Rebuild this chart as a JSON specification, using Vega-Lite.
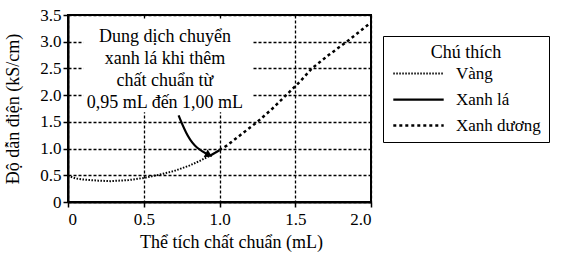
{
  "$schema": "https://vega.github.io/schema/vega-lite/v6.json",
  "autosize": "none",
  "width": 303,
  "height": 187,
  "padding": {"left": 68, "top": 15, "right": 217, "bottom": 59},
  "background": "white",
  "config": {
    "font": "Times New Roman, Liberation Serif, serif",
    "view": {"stroke": "black", "strokeWidth": 2},
    "axis": {
      "domainColor": "black", "domainWidth": 2,
      "tickColor": "black", "tickWidth": 1.5, "tickSize": 5,
      "gridColor": "black", "gridDash": [3, 2], "gridWidth": 1.3, "gridOpacity": 1,
      "labelColor": "black", "labelFont": "Times New Roman, Liberation Serif, serif", "labelFontSize": 17, "labelOverlap": false,
      "titleColor": "black", "titleFont": "Times New Roman, Liberation Serif, serif", "titleFontSize": 18, "titleFontWeight": "normal"
    },
    "legend": {
      "labelFont": "Times New Roman, Liberation Serif, serif", "titleFont": "Times New Roman, Liberation Serif, serif"
    }
  },
  "datasets": {
    "curve": [
      {"s": "Vàng", "x": 0, "y": 0.49},
      {"s": "Vàng", "x": 0.05, "y": 0.44},
      {"s": "Vàng", "x": 0.1, "y": 0.42},
      {"s": "Vàng", "x": 0.2, "y": 0.40},
      {"s": "Vàng", "x": 0.28, "y": 0.39},
      {"s": "Vàng", "x": 0.4, "y": 0.41},
      {"s": "Vàng", "x": 0.5, "y": 0.45},
      {"s": "Vàng", "x": 0.6, "y": 0.51},
      {"s": "Vàng", "x": 0.7, "y": 0.58},
      {"s": "Vàng", "x": 0.8, "y": 0.68},
      {"s": "Vàng", "x": 0.87, "y": 0.77},
      {"s": "Vàng", "x": 0.94, "y": 0.87},
      {"s": "Xanh lá", "x": 0.94, "y": 0.87},
      {"s": "Xanh lá", "x": 0.97, "y": 0.92},
      {"s": "Xanh lá", "x": 1.0, "y": 0.97},
      {"s": "Xanh dương", "x": 1.0, "y": 0.97},
      {"s": "Xanh dương", "x": 1.05, "y": 1.06},
      {"s": "Xanh dương", "x": 1.15, "y": 1.28},
      {"s": "Xanh dương", "x": 1.25, "y": 1.5},
      {"s": "Xanh dương", "x": 1.35, "y": 1.75},
      {"s": "Xanh dương", "x": 1.44, "y": 2.0},
      {"s": "Xanh dương", "x": 1.53, "y": 2.25},
      {"s": "Xanh dương", "x": 1.61, "y": 2.5},
      {"s": "Xanh dương", "x": 1.72, "y": 2.75},
      {"s": "Xanh dương", "x": 1.84, "y": 3.0},
      {"s": "Xanh dương", "x": 1.92, "y": 3.18},
      {"s": "Xanh dương", "x": 2.0, "y": 3.36}
    ],
    "box": [{"x": 0.1, "x2": 1.22, "y": 1.68, "y2": 3.42}],
    "note": [
      {"t": "Dung dịch chuyển", "x": 0.64, "y": 3.09},
      {"t": "xanh lá khi thêm", "x": 0.64, "y": 2.67},
      {"t": "chất chuẩn từ", "x": 0.64, "y": 2.26},
      {"t": "0,95 mL đến 1,00 mL", "x": 0.64, "y": 1.86}
    ],
    "arrow": [
      {"x": 0.73, "y": 1.62},
      {"x": 0.79, "y": 1.21},
      {"x": 0.85, "y": 1.0},
      {"x": 0.93, "y": 0.88}
    ],
    "head": [{"x": 0.93, "y": 0.88}]
  },
  "encoding": {
    "x": {"field": "x", "type": "quantitative", "scale": {"domain": [0, 2]},
      "axis": {"values": [0, 0.5, 1, 1.5, 2], "labelExpr": "datum.value == 0 ? '0' : format(datum.value, '.1f')", "title": "Thể tích chất chuẩn (mL)", "titleX": 163, "titlePadding": 6, "labelPadding": 4}},
    "y": {"field": "y", "type": "quantitative", "scale": {"domain": [0, 3.5]},
      "axis": {"values": [0, 0.5, 1, 1.5, 2, 2.5, 3, 3.5], "labelExpr": "datum.value == 0 ? '0' : format(datum.value, '.1f')", "title": "Độ dẫn điện (kS/cm)", "titleX": -46, "labelPadding": 2}}
  },
  "layer": [
    {
      "data": {"name": "box"},
      "mark": {"type": "rect", "fill": "white"},
      "encoding": {
        "x2": {"field": "x2"},
        "y2": {"field": "y2"}
      }
    },
    {
      "data": {"name": "note"},
      "mark": {"type": "text", "fontSize": 18, "color": "black", "align": "center", "baseline": "middle"},
      "encoding": {
        "text": {"field": "t"}
      }
    },
    {
      "data": {"name": "arrow"},
      "mark": {"type": "line", "color": "black", "strokeWidth": 2.2, "interpolate": "basis"},
      "encoding": {}
    },
    {
      "data": {"name": "head"},
      "mark": {"type": "point", "shape": "triangle-right", "filled": true, "color": "black", "size": 70, "angle": 28, "opacity": 1},
      "encoding": {}
    },
    {
      "data": {"name": "curve"},
      "mark": {"type": "line"},
      "encoding": {
        "color": {"field": "s", "type": "nominal", "title": "Chú thích",
          "scale": {"domain": ["Vàng", "Xanh lá", "Xanh dương"], "range": ["black", "black", "black"]},
          "legend": {
            "orient": "none", "legendX": 315, "legendY": 21,
            "strokeColor": "black", "padding": 8, "cornerRadius": 0,
            "titleAnchor": "middle", "titleFontSize": 18, "titleFontWeight": "normal", "titleColor": "black", "titlePadding": 3,
            "labelFontSize": 17, "labelColor": "black", "labelOffset": 29,
            "symbolType": "M-3.6,0H3.6", "symbolSize": 196, "symbolOffset": 19, "symbolStrokeColor": "black", "rowPadding": 8
          }},
        "strokeDash": {"field": "s", "type": "nominal", "title": "Chú thích",
          "scale": {"domain": ["Vàng", "Xanh lá", "Xanh dương"], "range": [[1.5, 1.5], [1, 0], [3, 3]]}},
        "strokeWidth": {"field": "s", "type": "nominal", "title": "Chú thích",
          "scale": {"domain": ["Vàng", "Xanh lá", "Xanh dương"], "range": [2, 2.5, 3]}}
      }
    }
  ]
}
